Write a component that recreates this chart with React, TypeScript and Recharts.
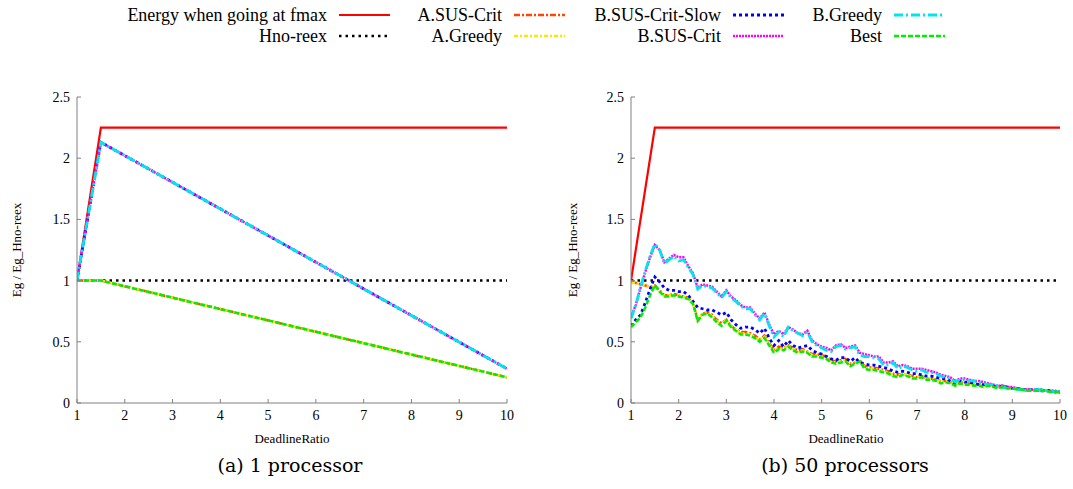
import React from 'react';
import { LineChart, Line, XAxis, YAxis } from 'recharts';

// ---------------------------------------------------------------------------
// DATA
// ---------------------------------------------------------------------------

const X_TICKS = [1, 2, 3, 4, 5, 6, 7, 8, 9, 10];
const Y_TICKS = [0, 0.5, 1, 1.5, 2, 2.5];

// (a) 1 processor
const X_1 = [1, 1.5, 10];
const FMAX_1 = [1, 2.25, 2.25];
const HNO_1 = [1, 1, 1];
const A_SUS_1 = [1, 1, 0.21];
const A_GREEDY_1 = [1, 1, 0.21];
const B_SLOW_1 = [1, 2.13, 0.28];
const B_SUS_1 = [1, 2.13, 0.28];
const B_GREEDY_1 = [1, 2.13, 0.28];
const BEST_1 = [1, 1, 0.21];

// (b) 50 processors
const FMAX_X_50 = [1, 1.5, 10];
const FMAX_50 = [1, 2.25, 2.25];
const HNO_X_50 = [1, 10];
const HNO_50 = [1, 1];

const X_50 = [
  1.0, 1.1, 1.2, 1.3, 1.4, 1.5, 1.6, 1.7, 1.8, 1.9,
  2.0, 2.1, 2.2, 2.3, 2.4, 2.5, 2.6, 2.7, 2.8, 2.9,
  3.0, 3.1, 3.2, 3.3, 3.4, 3.5, 3.6, 3.7, 3.8, 3.9,
  4.0, 4.1, 4.2, 4.3, 4.4, 4.5, 4.6, 4.7, 4.8, 4.9,
  5.0, 5.1, 5.2, 5.3, 5.4, 5.5, 5.6, 5.7, 5.8, 5.9,
  6.0, 6.1, 6.2, 6.3, 6.4, 6.5, 6.6, 6.7, 6.8, 6.9,
  7.0, 7.1, 7.2, 7.3, 7.4, 7.5, 7.6, 7.7, 7.8, 7.9,
  8.0, 8.1, 8.2, 8.3, 8.4, 8.5, 8.6, 8.7, 8.8, 8.9,
  9.0, 9.1, 9.2, 9.3, 9.4, 9.5, 9.6, 9.7, 9.8, 9.9,
  10.0,
];

const A_SUS_50 = [
  0.99, 0.98, 0.97, 0.96, 0.95, 0.96, 0.92, 0.88, 0.88, 0.89,
  0.88, 0.87, 0.86, 0.82, 0.68, 0.73, 0.74, 0.72, 0.68, 0.65,
  0.68, 0.63, 0.60, 0.58, 0.58, 0.57, 0.55, 0.52, 0.55, 0.49,
  0.43, 0.46, 0.45, 0.47, 0.45, 0.43, 0.44, 0.42, 0.40, 0.40,
  0.39, 0.38, 0.35, 0.34, 0.35, 0.36, 0.32, 0.33, 0.35, 0.30,
  0.29, 0.29, 0.28, 0.27, 0.26, 0.24, 0.23, 0.24, 0.23, 0.22,
  0.21, 0.22, 0.20, 0.20, 0.19, 0.18, 0.18, 0.17, 0.15, 0.17,
  0.16, 0.16, 0.15, 0.15, 0.14, 0.15, 0.14, 0.13, 0.14, 0.13,
  0.12, 0.12, 0.11, 0.11, 0.11, 0.10, 0.10, 0.10, 0.10, 0.09,
  0.09,
];

const A_GREEDY_50 = [
  0.98, 0.98, 0.97, 0.96, 0.95, 0.95, 0.91, 0.88, 0.88, 0.88,
  0.88, 0.87, 0.86, 0.82, 0.68, 0.73, 0.74, 0.71, 0.67, 0.64,
  0.68, 0.63, 0.60, 0.57, 0.57, 0.56, 0.54, 0.51, 0.54, 0.48,
  0.42, 0.45, 0.44, 0.47, 0.44, 0.42, 0.43, 0.42, 0.39, 0.39,
  0.38, 0.37, 0.34, 0.33, 0.34, 0.35, 0.31, 0.33, 0.35, 0.29,
  0.28, 0.28, 0.27, 0.26, 0.25, 0.23, 0.22, 0.24, 0.23, 0.21,
  0.21, 0.22, 0.20, 0.20, 0.19, 0.17, 0.18, 0.17, 0.15, 0.17,
  0.16, 0.16, 0.15, 0.15, 0.14, 0.14, 0.14, 0.13, 0.13, 0.12,
  0.12, 0.12, 0.11, 0.11, 0.10, 0.10, 0.10, 0.10, 0.10, 0.09,
  0.09,
];

const B_SLOW_50 = [
  0.63, 0.68, 0.72, 0.82, 0.93, 1.03, 0.99, 0.94, 0.92, 0.92,
  0.91, 0.91, 0.88, 0.83, 0.78, 0.77, 0.76, 0.76, 0.74, 0.72,
  0.74, 0.68, 0.64, 0.61, 0.62, 0.62, 0.60, 0.57, 0.61, 0.53,
  0.47, 0.51, 0.46, 0.51, 0.47, 0.45, 0.46, 0.47, 0.43, 0.41,
  0.40, 0.38, 0.36, 0.35, 0.37, 0.37, 0.34, 0.37, 0.33, 0.32,
  0.31, 0.31, 0.30, 0.29, 0.28, 0.26, 0.25, 0.26, 0.25, 0.24,
  0.24, 0.23, 0.22, 0.22, 0.21, 0.20, 0.20, 0.18, 0.16, 0.18,
  0.17, 0.17, 0.16, 0.15, 0.15, 0.15, 0.14, 0.13, 0.14, 0.13,
  0.12, 0.12, 0.11, 0.11, 0.11, 0.11, 0.10, 0.10, 0.10, 0.09,
  0.09,
];

const B_SUS_50 = [
  0.70, 0.80, 0.94, 1.07, 1.19, 1.29, 1.25, 1.15, 1.18, 1.21,
  1.19, 1.19, 1.12, 1.06, 0.94, 0.97, 0.96, 0.95, 0.91, 0.87,
  0.92, 0.87, 0.84, 0.80, 0.78, 0.78, 0.73, 0.69, 0.74, 0.64,
  0.56, 0.59, 0.56, 0.62, 0.60, 0.57, 0.56, 0.59, 0.51, 0.48,
  0.46, 0.45, 0.43, 0.47, 0.48, 0.45, 0.46, 0.47, 0.41, 0.40,
  0.39, 0.38, 0.38, 0.33, 0.33, 0.34, 0.30, 0.31, 0.30, 0.28,
  0.28, 0.28, 0.27, 0.26, 0.25, 0.23, 0.22, 0.21, 0.18, 0.20,
  0.20, 0.19, 0.18, 0.18, 0.17, 0.16, 0.15, 0.14, 0.14, 0.13,
  0.13, 0.12, 0.11, 0.11, 0.11, 0.11, 0.11, 0.10, 0.10, 0.10,
  0.09,
];

const B_GREEDY_50 = [
  0.69, 0.80, 0.95, 1.08, 1.20, 1.30, 1.25, 1.14, 1.17, 1.20,
  1.16, 1.17, 1.11, 1.05, 0.93, 0.96, 0.95, 0.94, 0.90, 0.86,
  0.91, 0.86, 0.83, 0.79, 0.77, 0.77, 0.72, 0.68, 0.73, 0.63,
  0.54, 0.58, 0.54, 0.62, 0.59, 0.57, 0.55, 0.58, 0.50, 0.47,
  0.45, 0.43, 0.42, 0.46, 0.47, 0.44, 0.45, 0.46, 0.39, 0.38,
  0.38, 0.37, 0.36, 0.31, 0.31, 0.33, 0.28, 0.30, 0.29, 0.27,
  0.26, 0.27, 0.25, 0.25, 0.24, 0.22, 0.21, 0.20, 0.17, 0.19,
  0.19, 0.18, 0.18, 0.17, 0.16, 0.15, 0.15, 0.14, 0.13, 0.12,
  0.12, 0.11, 0.11, 0.10, 0.11, 0.11, 0.11, 0.10, 0.10, 0.09,
  0.09,
];

const BEST_50 = [
  0.62, 0.66, 0.70, 0.78, 0.88, 0.96, 0.91, 0.87, 0.87, 0.88,
  0.87, 0.86, 0.85, 0.81, 0.67, 0.72, 0.73, 0.70, 0.66, 0.63,
  0.67, 0.62, 0.59, 0.56, 0.56, 0.55, 0.53, 0.50, 0.53, 0.47,
  0.41, 0.44, 0.43, 0.46, 0.43, 0.41, 0.42, 0.41, 0.38, 0.38,
  0.37, 0.36, 0.33, 0.32, 0.33, 0.34, 0.30, 0.32, 0.34, 0.28,
  0.27, 0.27, 0.26, 0.25, 0.24, 0.22, 0.21, 0.23, 0.22, 0.20,
  0.20, 0.21, 0.19, 0.19, 0.18, 0.16, 0.17, 0.16, 0.14, 0.16,
  0.15, 0.15, 0.14, 0.14, 0.13, 0.14, 0.13, 0.12, 0.13, 0.12,
  0.12, 0.11, 0.11, 0.10, 0.10, 0.10, 0.10, 0.10, 0.09, 0.09,
  0.09,
];

// ---------------------------------------------------------------------------
// STYLES
// ---------------------------------------------------------------------------

const SERIES = [
  { key: 'fmax', name: 'Energy when going at fmax', color: '#ff0000', dash: undefined, width: 2.2 },
  { key: 'hno', name: 'Hno-reex', color: '#000000', dash: '2.5 4', width: 2.5 },
  { key: 'aSus', name: 'A.SUS-Crit', color: '#ff4500', dash: '6 2 2 2', width: 2.5 },
  { key: 'aGreedy', name: 'A.Greedy', color: '#ffe600', dash: '4 2 2 2', width: 2.5 },
  { key: 'bSlow', name: 'B.SUS-Crit-Slow', color: '#0000ff', dash: '3 3', width: 2.8 },
  { key: 'bSus', name: 'B.SUS-Crit', color: '#ff00ff', dash: '2 1', width: 2.5 },
  { key: 'bGreedy', name: 'B.Greedy', color: '#00e5ee', dash: '9 3 2 3', width: 2.8 },
  { key: 'best', name: 'Best', color: '#00ee00', dash: '5 2', width: 2.5 },
];

const FONT = '"Liberation Serif", "Times New Roman", Times, serif';
const AXIS_COLOR = '#808080';

const rows1 = X_1.map((x, i) => ({
  x,
  fmax: FMAX_1[i],
  hno: HNO_1[i],
  aSus: A_SUS_1[i],
  aGreedy: A_GREEDY_1[i],
  bSlow: B_SLOW_1[i],
  bSus: B_SUS_1[i],
  bGreedy: B_GREEDY_1[i],
  best: BEST_1[i],
}));

const rows50 = X_50.map((x, i) => ({
  x,
  aSus: A_SUS_50[i],
  aGreedy: A_GREEDY_50[i],
  bSlow: B_SLOW_50[i],
  bSus: B_SUS_50[i],
  bGreedy: B_GREEDY_50[i],
  best: BEST_50[i],
}));

const fmaxRows50 = FMAX_X_50.map((x, i) => ({ x, fmax: FMAX_50[i] }));
const hnoRows50 = HNO_X_50.map((x, i) => ({ x, hno: HNO_50[i] }));

// ---------------------------------------------------------------------------
// PANEL
// ---------------------------------------------------------------------------

const tickStyle = { fill: '#000', fontSize: 14, fontFamily: FONT };

function Panel({ left, width, plotRight, rows, extra }: any) {
  return (
    <div style={{ position: 'absolute', left, top: 60, width, height: 380 }}>
      <LineChart
        width={width}
        height={380}
        data={rows}
        margin={{ top: 37, right: width - plotRight, left: 37, bottom: 7 }}
      >
        <XAxis
          dataKey="x"
          type="number"
          domain={[1, 10]}
          ticks={X_TICKS}
          allowDataOverflow
          stroke={AXIS_COLOR}
          tick={tickStyle}
          tickSize={-4}
          tickMargin={11}
          height={30}
          allowDuplicatedCategory={false}
        />
        <YAxis
          type="number"
          domain={[0, 2.5]}
          ticks={Y_TICKS}
          stroke={AXIS_COLOR}
          tick={tickStyle}
          tickSize={-4}
          tickMargin={11}
          width={40}
        />
        {SERIES.map((s) => {
          const own = extra ? extra[s.key] : undefined;
          return (
            <Line
              key={s.key}
              data={own}
              dataKey={s.key}
              type="linear"
              stroke={s.color}
              strokeWidth={s.width}
              strokeDasharray={s.dash}
              dot={false}
              activeDot={false}
              isAnimationActive={false}
            />
          );
        })}
      </LineChart>
    </div>
  );
}

// ---------------------------------------------------------------------------
// LEGEND
// ---------------------------------------------------------------------------

const LEGEND_POS = [
  { key: 'fmax', right: 327, top: 4 },
  { key: 'hno', right: 327, top: 25 },
  { key: 'aSus', right: 502, top: 4 },
  { key: 'aGreedy', right: 502, top: 25 },
  { key: 'bSlow', right: 721, top: 4 },
  { key: 'bSus', right: 721, top: 25 },
  { key: 'bGreedy', right: 882, top: 4 },
  { key: 'best', right: 882, top: 25 },
];

function LegendItem({ item, right, top }: any) {
  return (
    <div style={{ position: 'absolute', left: 0, top, width: right + 65, height: 22 }}>
      <div
        style={{
          position: 'absolute',
          right: 65,
          top: 0,
          fontFamily: FONT,
          fontSize: 18,
          lineHeight: '22px',
          whiteSpace: 'nowrap',
          color: '#000',
        }}
      >
        {item.name}
      </div>
      <svg style={{ position: 'absolute', right: 0, top: 0 }} width={55} height={22}>
        <line
          x1={2}
          x2={53}
          y1={11}
          y2={11}
          stroke={item.color}
          strokeWidth={item.width}
          strokeDasharray={item.dash}
        />
      </svg>
    </div>
  );
}

// ---------------------------------------------------------------------------
// APP
// ---------------------------------------------------------------------------

const labelStyle: React.CSSProperties = {
  position: 'absolute',
  fontFamily: FONT,
  fontSize: 13,
  color: '#000',
  whiteSpace: 'nowrap',
  transform: 'translate(-50%, -50%)',
};

const captionStyle: React.CSSProperties = {
  position: 'absolute',
  fontFamily: '"DejaVu Serif", serif',
  fontSize: 19,
  color: '#000',
  whiteSpace: 'nowrap',
  transform: 'translate(-50%, -50%)',
};

export default function App() {
  return (
    <div
      style={{
        position: 'absolute',
        left: 0,
        top: 0,
        width: 1073,
        height: 489,
        background: '#fff',
        overflow: 'hidden',
      }}
    >
      {LEGEND_POS.map((p) => (
        <LegendItem
          key={p.key}
          item={SERIES.find((s) => s.key === p.key)}
          right={p.right}
          top={p.top}
        />
      ))}

      <Panel left={0} width={540} plotRight={507} rows={rows1} />
      <Panel
        left={554}
        width={519}
        plotRight={506}
        rows={rows50}
        extra={{ fmax: fmaxRows50, hno: hnoRows50 }}
      />

      <div style={{ ...labelStyle, left: 17, top: 250, transform: 'translate(-50%, -50%) rotate(-90deg)' }}>
        Eg / Eg_Hno-reex
      </div>
      <div style={{ ...labelStyle, left: 573, top: 250, transform: 'translate(-50%, -50%) rotate(-90deg)' }}>
        Eg / Eg_Hno-reex
      </div>
      <div style={{ ...labelStyle, left: 292, top: 439 }}>DeadlineRatio</div>
      <div style={{ ...labelStyle, left: 846, top: 439 }}>DeadlineRatio</div>

      <div style={{ ...captionStyle, left: 290, top: 465 }}>(a) 1 processor</div>
      <div style={{ ...captionStyle, left: 845, top: 465 }}>(b) 50 processors</div>
    </div>
  );
}
